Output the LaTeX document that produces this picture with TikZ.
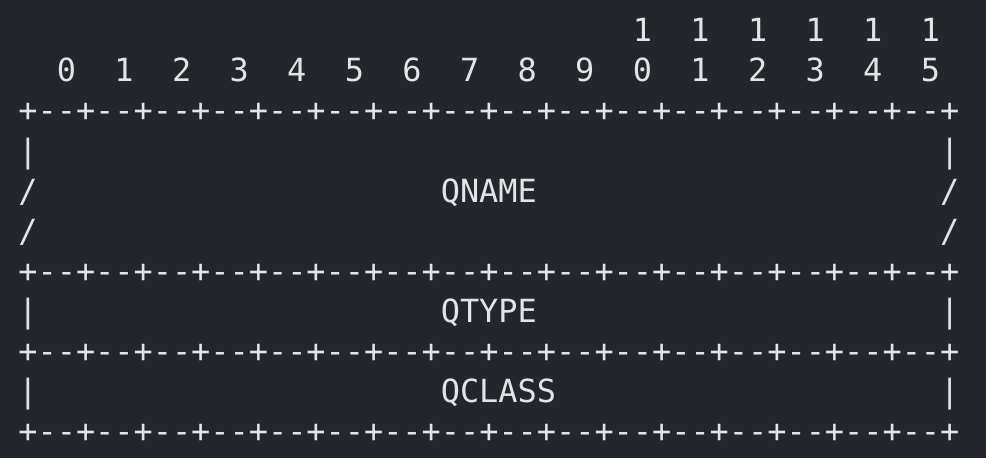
\documentclass[tikz,border=0pt]{standalone}
\usepackage{fontspec}
\newfontfamily\monofont{DejaVu Sans Mono}
\definecolor{bgcol}{HTML}{23262B}
\definecolor{txtcol}{HTML}{E2E4E8}
\begin{document}
\begin{tikzpicture}[x=1bp,y=1bp,
  cell/.style={anchor=base west,inner sep=0pt,outer sep=0pt,text=txtcol,
    font=\monofont\fontsize{31.9bp}{40bp}\selectfont}]
\fill[bgcol] (0,0) rectangle (986,-458);
\useasboundingbox (0,0) rectangle (986,-458);
% column left edge: 18.4 + 19.2*c ; row baseline: 41.8 + 40.1*r
\def\cx#1{18.4+19.2*#1}
\def\ry#1{-(41.8+40.1*#1)}
% header row 0
\foreach \k in {10,...,15}{
  \node[cell] (hi\k) at ({\cx{(2+3*\k)}},{\ry{0}}) {1};
}
% header row 1
\foreach \k in {0,...,9}{
  \node[cell] (lo\k) at ({\cx{(2+3*\k)}},{\ry{1}}) {\k};
}
\foreach \k/\d in {10/0,11/1,12/2,13/3,14/4,15/5}{
  \node[cell] (lo\k) at ({\cx{(2+3*\k)}},{\ry{1}}) {\d};
}
% border rows
\foreach \r in {2,6,8,10}{
  \node[cell] (rule\r) at ({\cx{0}},{\ry{\r}}) {+--+--+--+--+--+--+--+--+--+--+--+--+--+--+--+--+};
}
% QNAME rows
\node[cell] (l3) at ({\cx{0}},{\ry{3}}) {|};
\node[cell] (r3) at ({\cx{48}},{\ry{3}}) {|};
\node[cell] (l4) at ({\cx{0}},{\ry{4}}) {/};
\node[cell] (qname) at ({\cx{22}},{\ry{4}}) {QNAME};
\node[cell] (r4) at ({\cx{48}},{\ry{4}}) {/};
\node[cell] (l5) at ({\cx{0}},{\ry{5}}) {/};
\node[cell] (r5) at ({\cx{48}},{\ry{5}}) {/};
% QTYPE
\node[cell] (l7) at ({\cx{0}},{\ry{7}}) {|};
\node[cell] (qtype) at ({\cx{22}},{\ry{7}}) {QTYPE};
\node[cell] (r7) at ({\cx{48}},{\ry{7}}) {|};
% QCLASS
\node[cell] (l9) at ({\cx{0}},{\ry{9}}) {|};
\node[cell] (qclass) at ({\cx{22}},{\ry{9}}) {QCLASS};
\node[cell] (r9) at ({\cx{48}},{\ry{9}}) {|};
\end{tikzpicture}
\end{document}
